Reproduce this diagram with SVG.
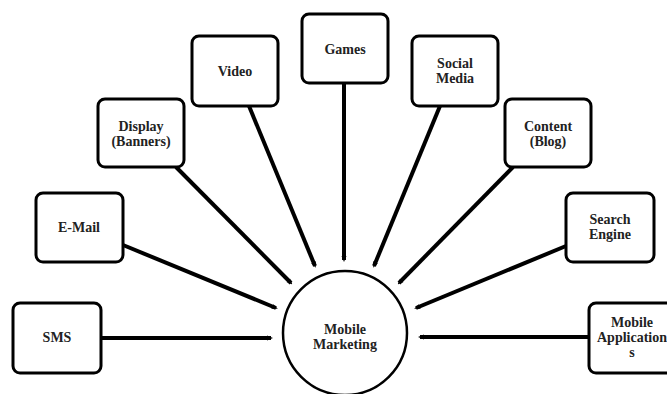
<svg xmlns="http://www.w3.org/2000/svg" width="667" height="394" viewBox="0 0 667 394">
<style>
.box{fill:#fff;stroke:#000;stroke-width:3}
.hub{fill:#fff;stroke:#000;stroke-width:2.5}
text{font-family:"Liberation Serif","Times New Roman",serif;font-weight:bold;font-size:14px;fill:#222;text-anchor:middle}
.c line{stroke:#000;stroke-width:4;marker-end:url(#ah)}
</style>
<defs>
<marker id="ah" viewBox="0 0 6 6" refX="4" refY="3" markerWidth="6" markerHeight="6" markerUnits="userSpaceOnUse" orient="auto">
<path d="M0,0.5 L6,3 L0,5.5 z" fill="#000"/>
</marker>
</defs>
<rect width="667" height="394" fill="#fff"/>
<g class="c" id="connectors">
<line x1="101" y1="338" x2="271" y2="338"/>
<line x1="123" y1="245" x2="276" y2="308"/>
<line x1="176" y1="167" x2="291" y2="283"/>
<line x1="249" y1="106" x2="315" y2="266"/>
<line x1="344" y1="83" x2="344" y2="260"/>
<line x1="440" y1="106" x2="374" y2="266"/>
<line x1="513" y1="167" x2="399" y2="283"/>
<line x1="566" y1="246" x2="416" y2="308"/>
<line x1="589" y1="337" x2="420" y2="337"/>
</g>
<g id="hub">
<circle class="hub" cx="345" cy="333" r="62"/>
<text x="345" y="334">Mobile</text>
<text x="345" y="349">Marketing</text>
</g>
<g id="sms"><rect class="box" x="13" y="303" width="88" height="70" rx="7"/><text x="57" y="342">SMS</text></g>
<g id="email"><rect class="box" x="36" y="193" width="87" height="69" rx="7"/><text x="79" y="232">E-Mail</text></g>
<g id="display"><rect class="box" x="98" y="99" width="86" height="68" rx="7"/><text x="141" y="131">Display</text><text x="141" y="146">(Banners)</text></g>
<g id="video"><rect class="box" x="192" y="36" width="86" height="70" rx="7"/><text x="235" y="76">Video</text></g>
<g id="games"><rect class="box" x="302" y="14" width="86" height="69" rx="7"/><text x="345" y="54">Games</text></g>
<g id="social"><rect class="box" x="412" y="36" width="86" height="70" rx="7"/><text x="455" y="68">Social</text><text x="455" y="83">Media</text></g>
<g id="content"><rect class="box" x="505" y="99" width="86" height="68" rx="7"/><text x="548" y="131">Content</text><text x="548" y="146">(Blog)</text></g>
<g id="search"><rect class="box" x="566" y="193" width="88" height="69" rx="7"/><text x="610" y="224">Search</text><text x="610" y="239">Engine</text></g>
<g id="apps"><rect class="box" x="589" y="303" width="88" height="70" rx="7"/><text x="632" y="327">Mobile</text><text x="632" y="342">Application</text><text x="632" y="357">s</text></g>
</svg>
